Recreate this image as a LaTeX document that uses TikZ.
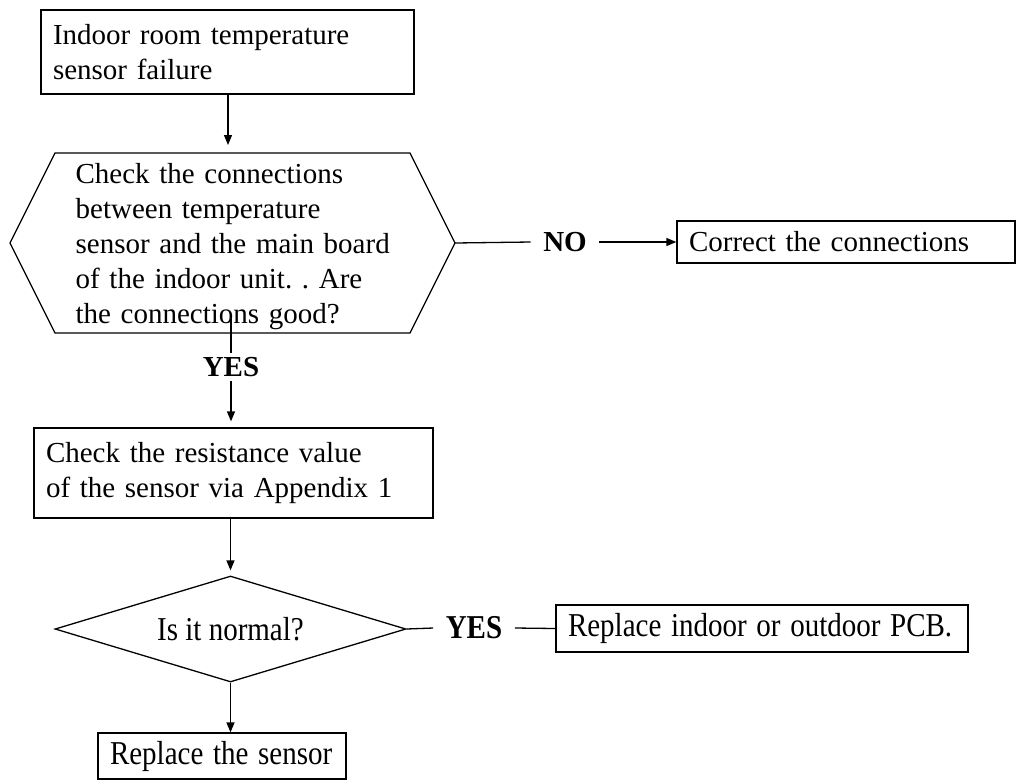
\documentclass[tikz,border=0pt]{standalone}
\usepackage{fontspec}
\setmainfont{Liberation Serif}
\usetikzlibrary{arrows.meta,shapes.geometric,calc}
\frenchspacing
\newcommand{\tallx}[1]{\scalebox{1}[1.15]{#1}}
\begin{document}
\begin{tikzpicture}[x=1pt,y=-1pt, line width=1.3pt,
  every node/.style={font=\fontsize{29}{35}\selectfont},
  box/.style={draw,rectangle,inner xsep=12pt,inner ysep=0pt,align=left},
  tag/.style={font=\fontsize{29}{35}\selectfont\bfseries,inner xsep=12pt},
  flow/.style={-{Triangle[length=10pt,width=8pt]}}]
\useasboundingbox (0,0) rectangle (1019,780);
% boxes
\node[box,minimum width=373pt,minimum height=84pt,text width=349pt] (fail) at (227.5,52)
  {Indoor room temperature\\sensor failure};
\node[anchor=west,inner xsep=20pt,inner ysep=0pt,minimum height=180pt,
  text width=330pt,align=left] (hex) at (55,247)
  {Check the connections\\between temperature\\sensor and the main board\\of the indoor unit. . Are\\the connections good?};
\draw (55,153) -- (410,153) -- (455,243) coordinate (hexR) -- (410,333) -- (55,333) -- (10,243) -- cycle;
\node[box,minimum width=338pt,minimum height=42pt,text width=314pt] (correct) at (846,242) {Correct the connections};
\node[tag] (no) at (565,242) {NO};
\node[tag] (yes1) at (231,367) {YES};
\node[box,minimum width=399pt,minimum height=90pt,text width=375pt] (resist) at (233.5,473)
  {Check the resistance value\\of the sensor via Appendix 1};
\node[draw,diamond,aspect=3.3,inner sep=0pt,minimum width=351pt,minimum height=106pt] (normal) at (230.5,629)
  {\tallx{Is it normal?}};
\node[tag] (yes2) at (474,628) {\tallx{YES}};
\node[box,minimum width=412pt,minimum height=47pt,text width=388pt] (pcb) at (762,628.5) {\tallx{Replace indoor or outdoor PCB.}};
\node[box,minimum width=248pt,minimum height=46pt,text width=224pt] (sensor) at (222,756) {\tallx{Replace the sensor}};
% connectors
\draw[flow,shorten >=8pt] (228,94) -- (228,153);
\draw (hexR) -- (no.west);
\draw[flow] (no.east) -- (correct.west);
\draw ($(yes1.north |- hex.south)+(0,-19)$) -- (yes1.north);
\draw[flow,shorten >=6pt] (yes1.south) -- (yes1.south |- resist.north);
\draw[flow,shorten >=5pt] (resist.south -| normal.north) -- (normal.north);
\draw (normal.east) -- (yes2.west);
\draw (yes2.east) -- (pcb.west);
\draw[flow] (normal.south) -- (normal.south |- sensor.north);
\end{tikzpicture}
\end{document}
